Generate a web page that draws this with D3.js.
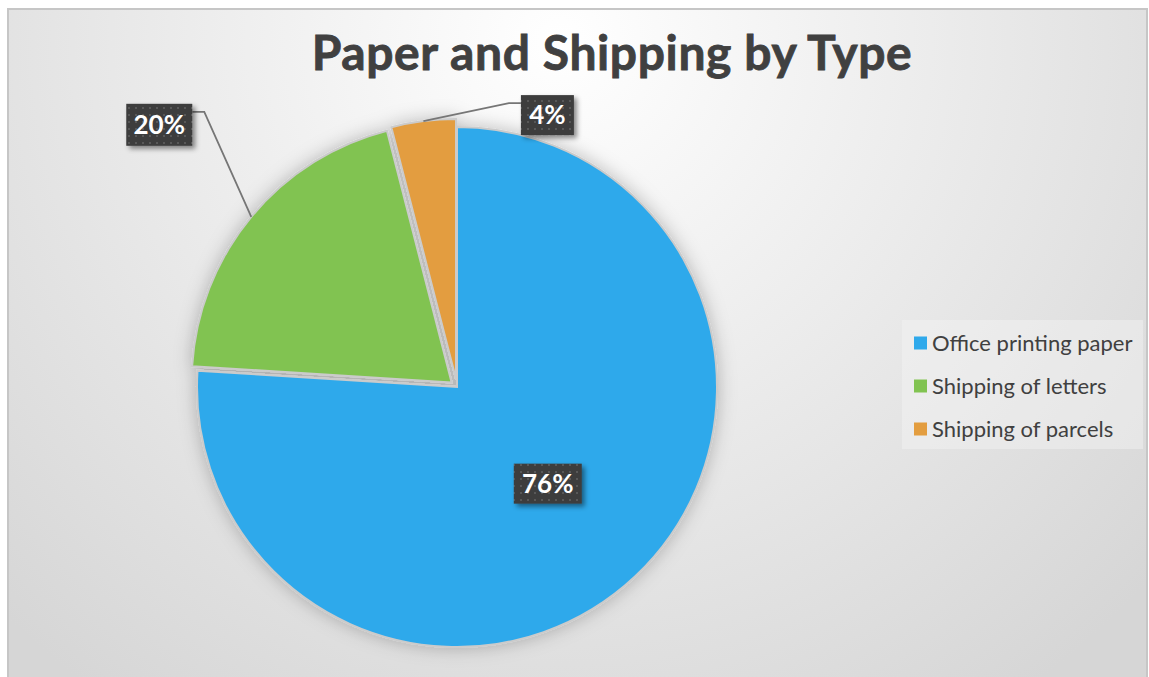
<!DOCTYPE html>
<html>
<head>
<meta charset="utf-8">
<script src="https://cdn.jsdelivr.net/npm/d3@7"></script>
<style>
  html,body{margin:0;padding:0;background:#fff;}
  svg{display:block;}
</style>
</head>
<body>
<svg id="chart" width="1149" height="677"></svg>
<script>
const categories = ["Office printing paper", "Shipping of letters", "Shipping of parcels"];
const values = [76, 20, 4];
const labels = ["76%", "20%", "4%"];
const colors = ["#2fa9eb", "#81c351", "#e39d3f"];
const title = "Paper and Shipping by Type";

const W = 1149, H = 677;
const svg = d3.select("#chart");
const defs = svg.append("defs");

// background gradient
const bg = defs.append("radialGradient").attr("id","bg")
  .attr("gradientUnits","userSpaceOnUse")
  .attr("cx", 560).attr("cy", 40).attr("r", 800)
  .attr("fx", 560).attr("fy", 40);
bg.append("stop").attr("offset","0%").attr("stop-color","#ffffff");
bg.append("stop").attr("offset","100%").attr("stop-color","#d6d6d6");

// label pattern
const pat = defs.append("pattern").attr("id","dots")
  .attr("patternUnits","userSpaceOnUse").attr("width",7).attr("height",7);
pat.append("rect").attr("width",7).attr("height",7).attr("fill","#3d3d3d");
pat.append("rect").attr("x",2).attr("y",2).attr("width",2).attr("height",2).attr("fill","#595959");

const shadow = defs.append("filter").attr("id","shadow").attr("x","-30%").attr("y","-30%").attr("width","160%").attr("height","160%");
shadow.append("feDropShadow").attr("dx",3).attr("dy",3).attr("stdDeviation",2.5).attr("flood-color","#000").attr("flood-opacity",0.45);

const pieShadow = defs.append("filter").attr("id","pieShadow").attr("x","-20%").attr("y","-20%").attr("width","140%").attr("height","140%");
pieShadow.append("feDropShadow").attr("dx",0).attr("dy",0).attr("stdDeviation",9).attr("flood-color","#000").attr("flood-opacity",0.25);

// frame
svg.append("rect").attr("x",8).attr("y",9).attr("width",1139).attr("height",675)
  .attr("fill","url(#bg)").attr("stroke","#c6c6c6").attr("stroke-width",2);

// title
svg.append("text").attr("x", 612).attr("y", 70).attr("text-anchor","middle")
  .attr("font-family","Lato, 'Open Sans', sans-serif").attr("font-weight","bold")
  .attr("font-size", 48).attr("letter-spacing", 0.6)
  .attr("stroke","#404040").attr("stroke-width",0.8)
  .attr("fill","#404040").text(title);

// pie
const cx = 457, cy = 387, R = 260;
const explode = [0, 7, 8];
const pie = d3.pie().sort(null).startAngle(0).endAngle(2*Math.PI);
const arcs = pie(values);
const arc = d3.arc().innerRadius(0).outerRadius(R);
const labelArc = d3.arc().innerRadius(R*0.51).outerRadius(R*0.51);
const edgeArc = d3.arc().innerRadius(R).outerRadius(R);

function offset(d, i){
  const m = (d.startAngle + d.endAngle)/2;
  return [explode[i]*Math.sin(m), -explode[i]*Math.cos(m)];
}

const g = svg.append("g").attr("transform",`translate(${cx},${cy})`);
const slices = g.append("g").attr("filter","url(#pieShadow)");
slices.selectAll("path").data(arcs).join("path")
  .attr("transform",(d,i)=>{const o=offset(d,i);return `translate(${o[0]},${o[1]})`;})
  .attr("d",arc).attr("fill",(d,i)=>colors[i])
  .attr("stroke","#cbcbcb").attr("stroke-width",2).attr("stroke-linejoin","miter");

// labels: inside for big slice, outside with leader lines for others
const boxSize = [[68,40],[66,42],[53,40]];
const outsideOffsets = {1:[-92,-92], 2:[124,-6]};

arcs.forEach((d,i)=>{
  const o = offset(d,i);
  let bx, by;
  if(i===0){
    const c = labelArc.centroid(d);
    bx = cx + o[0] + c[0]; by = cy + o[1] + c[1];
  } else {
    const e = edgeArc.centroid(d);
    const ex = cx + o[0] + e[0], ey = cy + o[1] + e[1];
    bx = ex + outsideOffsets[i][0]; by = ey + outsideOffsets[i][1];
    const [w,h] = boxSize[i];
    let pts;
    if(i===1){
      const sx = bx + w/2, sy = by - 13;
      pts = [[sx,sy],[sx+12,sy],[ex,ey]];
    } else {
      const sx = bx - w/2, sy = by - 12;
      pts = [[sx,sy],[sx-12,sy],[ex,ey]];
    }
    svg.append("polyline").attr("points",pts.map(p=>p.join(",")).join(" "))
      .attr("fill","none").attr("stroke","#767676").attr("stroke-width",1.8);
  }
  const [w,h] = boxSize[i];
  svg.append("rect").attr("x",bx-w/2).attr("y",by-h/2).attr("width",w).attr("height",h)
    .attr("fill","url(#dots)").attr("filter","url(#shadow)");
  svg.append("text").attr("x",bx).attr("y",by+9).attr("text-anchor","middle")
    .attr("font-family","Lato, 'Open Sans', sans-serif").attr("font-weight","bold")
    .attr("font-size",26).attr("fill","#ffffff").text(labels[i]);
});

// legend
svg.append("rect").attr("x",902).attr("y",320).attr("width",241).attr("height",129)
  .attr("fill","#f4f4f4").attr("opacity",0.45);
const ly = d3.scalePoint().domain(categories).range([343, 429]);
const leg = svg.append("g").selectAll("g").data(categories).join("g")
  .attr("transform",d=>`translate(914,${ly(d)})`);
leg.append("rect").attr("x",0).attr("y",-6.5).attr("width",13).attr("height",13)
  .attr("fill",(d,i)=>colors[i]);
leg.append("text").attr("x",18).attr("y",8).attr("font-family","Lato, 'Open Sans', sans-serif")
  .attr("font-size",22).attr("fill","#404040").text(d=>d);
</script>
</body>
</html>
